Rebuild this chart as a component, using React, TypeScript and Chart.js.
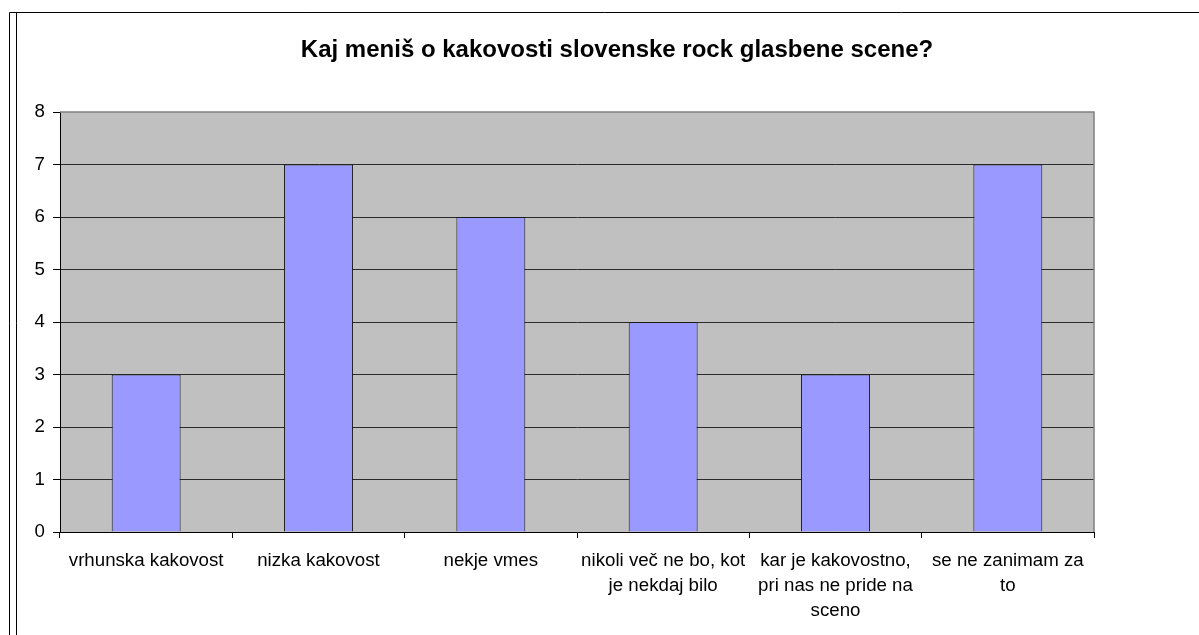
import React, { useEffect, useRef } from "react";
import { Chart, registerables } from "chart.js";

Chart.register(...registerables);

const TITLE = "Kaj meniš o kakovosti slovenske rock glasbene scene?";
const CATEGORIES: string[][] = [
  ["vrhunska kakovost"],
  ["nizka kakovost"],
  ["nekje vmes"],
  ["nikoli več ne bo, kot", "je nekdaj bilo"],
  ["kar je kakovostno,", "pri nas ne pride na", "sceno"],
  ["se ne zanimam za", "to"],
];
const VALUES: number[] = [3, 7, 6, 4, 3, 7];
const Y_MIN = 0;
const Y_MAX = 8;
const Y_STEP = 1;

const FONT = "'Liberation Sans', Arial, sans-serif";

const framePlugin = {
  id: "frame",
  beforeDraw(chart: any) {
    const { ctx, chartArea } = chart;
    ctx.save();
    ctx.fillStyle = "#ffffff";
    ctx.fillRect(0, 0, chart.width, chart.height);
    // outer frame
    ctx.strokeStyle = "#000000";
    ctx.lineWidth = 1;
    ctx.beginPath();
    ctx.moveTo(9.5, chart.height);
    ctx.lineTo(9.5, 12.5);
    ctx.lineTo(chart.width, 12.5);
    ctx.moveTo(16.5, 12.5);
    ctx.lineTo(16.5, chart.height);
    ctx.stroke();
    // plot background
    ctx.fillStyle = "#C0C0C0";
    ctx.fillRect(chartArea.left, chartArea.top, chartArea.right - chartArea.left, chartArea.bottom - chartArea.top);
    ctx.restore();
  },
  afterDatasetsDraw(chart: any) {
    const { ctx, chartArea } = chart;
    ctx.save();
    ctx.strokeStyle = "#808080";
    ctx.lineWidth = 1.5;
    ctx.beginPath();
    ctx.moveTo(chartArea.left, chartArea.top);
    ctx.lineTo(chartArea.right, chartArea.top);
    ctx.lineTo(chartArea.right, chartArea.bottom);
    ctx.stroke();
    ctx.restore();
  },
  afterDraw(chart: any) {
    const { ctx } = chart;
    ctx.save();
    ctx.fillStyle = "#000000";
    ctx.font = `bold 24px ${FONT}`;
    ctx.textAlign = "center";
    ctx.textBaseline = "alphabetic";
    ctx.fillText(TITLE, 617, 57);
    ctx.restore();
  },
};

export default function App() {
  const ref = useRef<HTMLCanvasElement>(null);
  useEffect(() => {
    if (!ref.current) return;
    const chart = new Chart(ref.current, {
      type: "bar",
      data: {
        labels: CATEGORIES,
        datasets: [
          {
            data: VALUES,
            backgroundColor: "#9999FF",
            borderColor: "#1a1a1a",
            borderWidth: 1,
            categoryPercentage: 1,
            barPercentage: 0.4,
          },
        ],
      },
      options: {
        responsive: false,
        animation: false,
        layout: { padding: { left: 0, top: 112, right: 105, bottom: 0 } },
        plugins: {
          legend: { display: false },
          title: { display: false },
          tooltip: { enabled: false },
        },
        scales: {
          x: {
            offset: true,
            grid: {
              offset: true,
              drawOnChartArea: false,
              drawTicks: true,
              tickLength: 6,
              color: "#000000",
            },
            border: { color: "#000000", width: 1 },
            ticks: {
              color: "#000000",
              font: { family: FONT, size: 18.7, lineHeight: 25 / 18.7 },
              padding: 10,
              maxRotation: 0,
              autoSkip: false,
            },
            afterFit(scale: any) {
              scale.height = 103;
            },
          },
          y: {
            min: Y_MIN,
            max: Y_MAX,
            grid: {
              color: (c: any) => (c.tick && c.tick.value === Y_MAX ? "rgba(0,0,0,0)" : "#2a2a2a"),
              tickColor: "#000000",
              tickLength: 7,
              lineWidth: 1,
            },
            border: { color: "#000000", width: 1 },
            ticks: {
              stepSize: Y_STEP,
              color: "#000000",
              font: { family: FONT, size: 18.7 },
              padding: 8,
            },
            afterFit(scale: any) {
              scale.width = 60;
            },
          },
        },
      },
      plugins: [framePlugin],
    });
    return () => chart.destroy();
  }, []);
  return (
    <div style={{ position: "absolute", left: 0, top: 0, width: 1199, height: 635 }}>
      <canvas ref={ref} width={1199} height={635} />
    </div>
  );
}
